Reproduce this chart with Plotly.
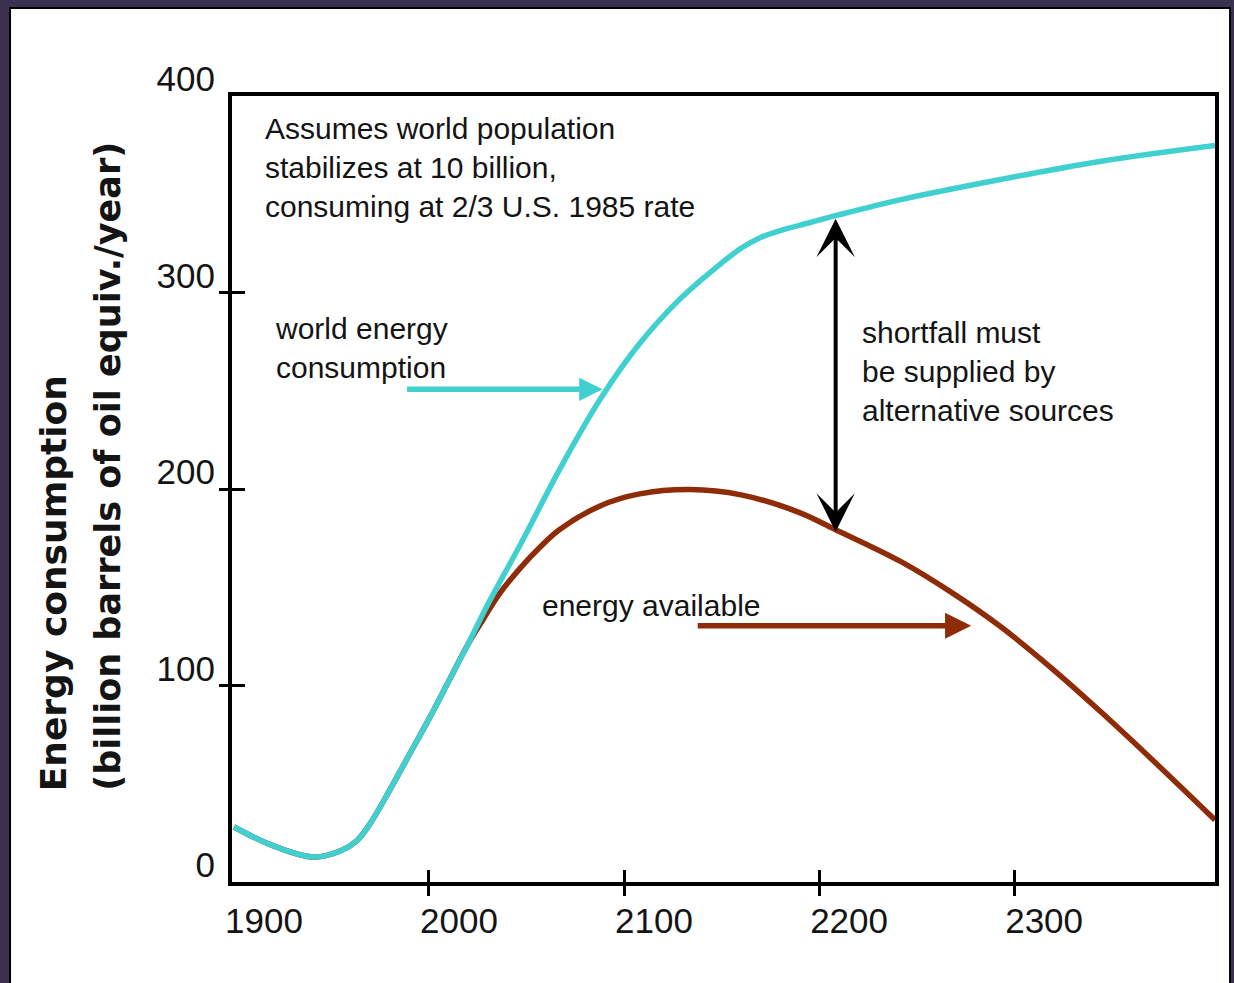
import plotly.graph_objects as go

# ---- data ----
cons_years = [1900, 1920, 1941, 1955, 1963, 1970, 1980, 1990, 2000, 2010, 2020, 2030, 2047, 2067, 2088,
              2108, 2129, 2150, 2160, 2170, 2180, 2195, 2210, 2242, 2293, 2344, 2403]
cons_vals = [28, 18.5, 12.7, 16, 21, 30, 47, 65, 83, 102, 121, 141, 172, 210, 246,
             274, 297, 315, 322.5, 328, 331.5, 335.5, 339.5, 347.3, 357.5, 366.7, 374.8]

avail_years = [1900, 1920, 1941, 1955, 1963, 1970, 1980, 1990, 2000, 2010, 2020, 2028, 2036, 2047, 2057,
               2067, 2088, 2108, 2134, 2160, 2190, 2208, 2242, 2270, 2293, 2319, 2344, 2370, 2403]
avail_vals = [28, 18.5, 12.7, 16, 21, 30, 47, 65, 83, 102, 121, 134, 146.5, 160, 170.5,
              179.4, 191.5, 197.5, 199.7, 197, 188, 179.5, 163, 146, 130, 109, 87, 63, 31.6]

x_tick_vals = [1900, 2000, 2100, 2200, 2300]
x_tick_text = ["1900", "2000", "2100", "2200", "2300"]
x_mark_vals = [2000, 2100, 2200, 2300]
y_tick_vals = [0, 100, 200, 300, 400]
y_tick_text = ["0", "100", "200", "300", "400"]
y_mark_vals = [100, 200, 300]

x_range = [1899, 2403]
y_range = [0, 400]

CYAN = "#3fd0cf"
BROWN = "#8f2c08"
TXT = "#141414"
BG = "#3a3050"
FONT = "Liberation Sans, Arial, Helvetica, sans-serif"

fig = go.Figure()
fig.add_trace(go.Scatter(x=avail_years, y=avail_vals, mode="lines",
                         line=dict(color=BROWN, width=5.5, shape="spline", smoothing=1.0),
                         hoverinfo="skip", showlegend=False))
fig.add_trace(go.Scatter(x=cons_years, y=cons_vals, mode="lines",
                         line=dict(color=CYAN, width=5.5, shape="spline", smoothing=1.0),
                         hoverinfo="skip", showlegend=False))
# empty traces so that the tick-mark axes (crossing ticks) get drawn
for xa, ya in [("x2", "y"), ("x", "y2")]:
    fig.add_trace(go.Scatter(x=[None], y=[None], xaxis=xa, yaxis=ya, mode="lines",
                             hoverinfo="skip", showlegend=False))

# ---- annotations ----
ann = []
ann.append(dict(x=1915, y=393, xref="x", yref="y", xanchor="left", yanchor="top", align="left",
                showarrow=False, font=dict(size=30, color=TXT, family=FONT),
                text="Assumes world population<br>stabilizes at 10 billion,<br>consuming at 2/3 U.S. 1985 rate"))
ann.append(dict(x=1920, y=291, xref="x", yref="y", xanchor="left", yanchor="top", align="left",
                showarrow=False, font=dict(size=30, color=TXT, family=FONT),
                text="world energy<br>consumption"))
ann.append(dict(x=2221, y=289, xref="x", yref="y", xanchor="left", yanchor="top", align="left",
                showarrow=False, font=dict(size=30, color=TXT, family=FONT),
                text="shortfall must<br>be supplied by<br>alternative sources"))
ann.append(dict(x=2057, y=140.6, xref="x", yref="y", xanchor="left", yanchor="middle", align="left",
                showarrow=False, font=dict(size=30, color=TXT, family=FONT),
                text="energy available"))
# arrows
ann.append(dict(x=2089, y=250.7, ax=1988, ay=250.7, xref="x", yref="y", axref="x", ayref="y",
                text="", showarrow=True, arrowhead=2, arrowsize=0.85, arrowwidth=5.5, arrowcolor=CYAN))
ann.append(dict(x=2278, y=130.4, ax=2137, ay=130.4, xref="x", yref="y", axref="x", ayref="y",
                text="", showarrow=True, arrowhead=2, arrowsize=0.95, arrowwidth=5.5, arrowcolor=BROWN))
ann.append(dict(x=2208.5, y=178.3, ax=2208.5, ay=338.3, xref="x", yref="y", axref="x", ayref="y",
                text="", showarrow=True, arrowhead=3, startarrowhead=3, arrowside="end+start",
                arrowsize=1.6, startarrowsize=1.6, arrowwidth=4, arrowcolor="#000000"))
# y-axis title (two lines)
ann.append(dict(x=-0.182, y=0.113, xref="paper", yref="paper", xanchor="center", yanchor="bottom",
                textangle=-90, showarrow=False,
                font=dict(size=36, color=TXT, family="DejaVu Sans", weight="bold"),
                text="Energy consumption"))
ann.append(dict(x=-0.126, y=0.113, xref="paper", yref="paper", xanchor="center", yanchor="bottom",
                textangle=-90, showarrow=False,
                font=dict(size=35, color=TXT, family="DejaVu Sans", weight="bold"),
                text="(billion barrels of oil equiv./year)"))

shapes = [dict(type="rect", xref="paper", yref="paper", x0=-0.2258, x1=1.0153, y0=-0.14, y1=1.112,
               fillcolor="#ffffff", line=dict(color="#000000", width=2), layer="below")]

common_axis = dict(showgrid=False, zeroline=False)
mark_axis = dict(tickmode="array", ticks="outside", ticklen=26, tickwidth=3, tickcolor="#000000",
                 showticklabels=False, showline=False, fixedrange=True, anchor="free", **common_axis)
fig.update_layout(
    width=1234, height=983,
    margin=dict(l=232, r=19, t=96, b=101),
    paper_bgcolor=BG, plot_bgcolor="#ffffff",
    showlegend=False,
    annotations=ann, shapes=shapes,
    xaxis=dict(range=x_range, tickmode="array", tickvals=x_tick_vals, ticktext=x_tick_text,
               ticks="", showline=True, linecolor="#000000", linewidth=4, mirror=True,
               tickfont=dict(size=35, color=TXT, family=FONT), ticklabelshift=30,
               ticklabelstandoff=5, **common_axis),
    yaxis=dict(range=y_range, tickmode="array", tickvals=y_tick_vals, ticktext=y_tick_text,
               ticks="", showline=True, linecolor="#000000", linewidth=4, mirror=True,
               tickfont=dict(size=35, color=TXT, family=FONT), ticklabelshift=-17,
               ticklabelstandoff=6, **common_axis),
    # crossing tick marks: outside ticks on free axes shifted half a tick length inward
    xaxis2=dict(range=x_range, overlaying="x", side="bottom", position=13 / 786,
                tickvals=x_mark_vals, **mark_axis),
    yaxis2=dict(range=y_range, overlaying="y", side="left", position=13 / 983,
                tickvals=y_mark_vals, **mark_axis),
)

fig.write_html("out.html", config={"displayModeBar": False},
               post_script="document.body.style.margin='0px';document.body.style.background='%s';" % BG)
